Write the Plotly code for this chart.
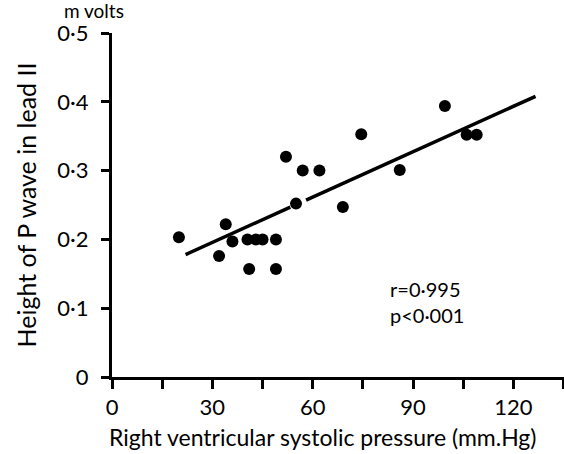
import plotly.graph_objects as go

# Data
pressure = [20, 34, 32, 36, 40.5, 43, 45, 49, 41, 49, 52, 55, 57, 62, 69, 74.5, 86, 99.5, 106, 109]
p_height = [0.203, 0.222, 0.176, 0.197, 0.200, 0.200, 0.200, 0.200, 0.157, 0.157,
            0.320, 0.252, 0.300, 0.300, 0.247, 0.353, 0.301, 0.394, 0.352, 0.352]

# Regression line (broken around one point, as drawn)
fit_x = [22, 53.3, None, 58.0, 126.6]
fit_y = [0.178, 0.2469, None, 0.2572, 0.408]

x_tickvals = [0, 30, 60, 90, 120]
x_ticktext = ["0", "30", "60", "90", "120"]
y_tickvals = [0, 0.1, 0.2, 0.3, 0.4, 0.5]
y_ticktext = ["0", "0·1", "0·2", "0·3", "0·4", "0·5"]

FONT = "Lato"
W, H = 564, 454
L, T, B, R = 112, 33, 77, 0
PW, PH = W - L - R, H - T - B

fig = go.Figure()
fig.add_trace(go.Scatter(x=fit_x, y=fit_y, mode="lines",
                         line=dict(color="black", width=3.5), connectgaps=False,
                         hoverinfo="skip", showlegend=False))
fig.add_trace(go.Scatter(x=pressure, y=p_height, mode="markers",
                         marker=dict(color="black", size=12, line=dict(width=0)),
                         showlegend=False))

fig.add_annotation(x=(388 - L) / PW, y=(H - B - 301.5) / PH, xref="paper", yref="paper",
                   text="r=0·995<br>p&lt;0·001", align="left",
                   showarrow=False, xanchor="left", yanchor="middle",
                   font=dict(family=FONT, size=20, color="black"))
fig.add_annotation(x=(94 - L) / PW, y=1 + (T - 10) / PH, xref="paper", yref="paper",
                   text="m volts", showarrow=False, xanchor="center", yanchor="middle",
                   borderpad=0,
                   font=dict(family=FONT, size=19, color="black"))
fig.add_annotation(x=(322 - L) / PW, y=-(437 - (H - B)) / PH, xref="paper", yref="paper",
                   text="Right ventricular systolic pressure (mm.Hg)", showarrow=False,
                   xanchor="center", yanchor="middle",
                   font=dict(family=FONT, size=23, color="black"))

fig.update_layout(
    width=W, height=H,
    margin=dict(l=L, r=R, t=T, b=B, pad=0),
    paper_bgcolor="white", plot_bgcolor="white",
    font=dict(family=FONT, size=21, color="black"),
    xaxis=dict(range=[0, 135.1], tickvals=x_tickvals, ticktext=x_ticktext,
               showgrid=False, zeroline=False, showline=True, linecolor="black",
               linewidth=3, ticks="outside", ticklen=9, tickwidth=3, tickcolor="black",
               minor=dict(dtick=15, tick0=0, ticks="outside", ticklen=9, tickwidth=3,
                          tickcolor="black", showgrid=False),
               tickfont=dict(family=FONT, size=22)),
    yaxis=dict(range=[0, 0.5], tickvals=y_tickvals, ticktext=y_ticktext,
               showgrid=False, zeroline=False, showline=True, linecolor="black",
               linewidth=3, ticks="outside", ticklen=8, tickwidth=3, tickcolor="black",
               ticklabelstandoff=8,
               title=dict(text="Height of P wave in lead II",
                          font=dict(family=FONT, size=25), standoff=14),
               tickfont=dict(family=FONT, size=22)),
)

fig.write_html("out.html", config={"displayModeBar": False},
               post_script="document.body.style.margin='0';")
